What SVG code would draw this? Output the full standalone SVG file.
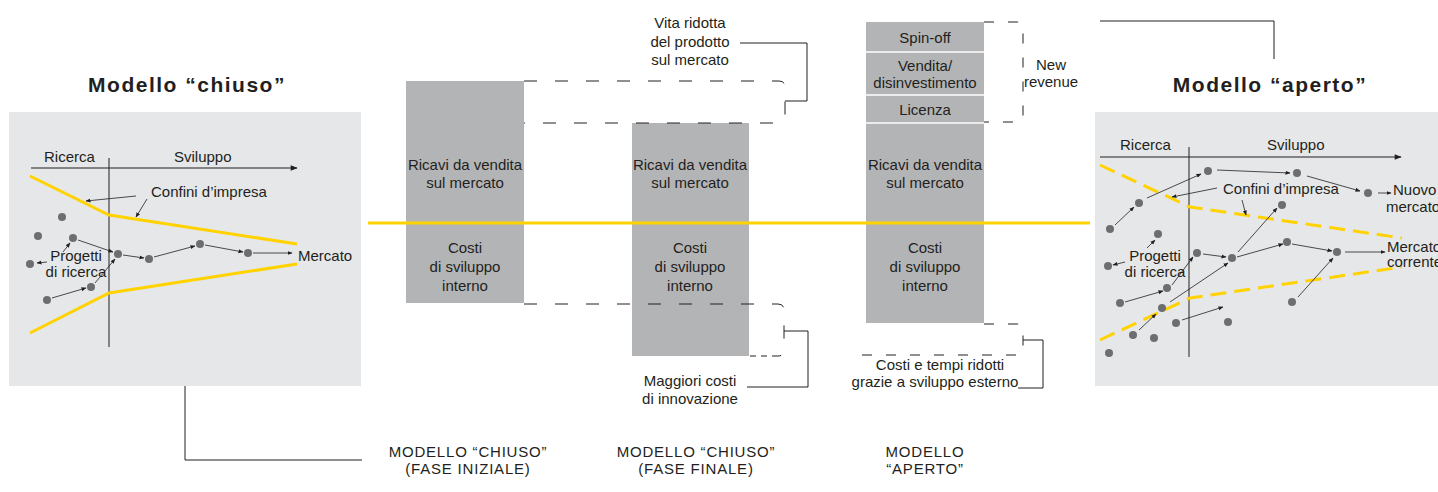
<svg xmlns="http://www.w3.org/2000/svg" width="1438" height="492" viewBox="0 0 1438 492">
<defs>
<marker id="ah" viewBox="0 0 10 10" refX="9" refY="5" markerWidth="5" markerHeight="5" orient="auto" markerUnits="userSpaceOnUse"><path d="M0,1 L10,5 L0,9 z" fill="#231f20"/></marker>
<marker id="ah2" viewBox="0 0 10 10" refX="9" refY="5" markerWidth="8" markerHeight="7" orient="auto" markerUnits="userSpaceOnUse"><path d="M0,1 L10,5 L0,9 z" fill="#231f20"/></marker>
<style>
.t{font-family:"Liberation Sans",Arial,sans-serif;font-size:15px;fill:#231f20}
.c{text-anchor:middle}
.ttl{font-weight:bold;font-size:21px;letter-spacing:1.5px}
.cap{letter-spacing:0.8px}
.panel{fill:#e6e7e8}
.bar{fill:#b3b4b6}
.dot{fill:#6d6e71}
.ar{stroke:#231f20;stroke-width:0.8;fill:none;marker-end:url(#ah)}
.ax{stroke:#231f20;stroke-width:1;fill:none}
.yl{stroke:#ffd200;stroke-width:3;fill:none}
.yd{stroke:#ffd200;stroke-width:3;fill:none;stroke-dasharray:16 8}
.br{stroke:#231f20;stroke-width:1;fill:none;stroke-dasharray:13 18}
.bs{stroke:#231f20;stroke-width:1;fill:none;stroke-dasharray:10 14}
.ld{stroke:#231f20;stroke-width:1;fill:none}
.sep{stroke:#fff;stroke-width:1.5}
</style>
</defs>

<g id="title-closed">
<text class="t ttl c" x="187" y="92">Modello “chiuso”</text>
</g>

<g id="panel-closed">
<rect class="panel" x="9" y="112" width="352" height="274"/>
<text class="t" x="44" y="162">Ricerca</text>
<text class="t" x="174" y="162">Sviluppo</text>
<line class="ax" x1="31" y1="168" x2="297" y2="168" marker-end="url(#ah2)"/>
<line class="ax" x1="109" y1="158" x2="109" y2="347"/>
<polyline class="yl" points="30,176 109,215 297,244"/>
<polyline class="yl" points="30,333 109,293 297,264"/>
<text class="t" x="151" y="197">Confini d’impresa</text>
<g>
<path class="ar" d="M78,240 L113,252"/>
<path class="ar" d="M123,255 L144,258"/>
<path class="ar" d="M154,257 L195,246"/>
<path class="ar" d="M205,245 L243,252"/>
<path class="ar" d="M253,253 L292,253"/>
<path class="ar" d="M52,298 L86,288"/>
<path class="ar" d="M95,283 L115,259"/>
<path class="ar" d="M63,252 L70,243"/>
<path class="ar" d="M47,262 L37,263"/>
<path class="ar" d="M136,196 L86,201"/>
<path class="ar" d="M147,199 L136,217"/>
</g>
<circle class="dot" cx="62" cy="217" r="4"/>
<circle class="dot" cx="38" cy="236" r="4"/>
<circle class="dot" cx="73" cy="238" r="4"/>
<circle class="dot" cx="30" cy="264" r="4"/>
<circle class="dot" cx="118" cy="254" r="4"/>
<circle class="dot" cx="149" cy="259" r="4"/>
<circle class="dot" cx="200" cy="244" r="4"/>
<circle class="dot" cx="248" cy="253" r="4"/>
<circle class="dot" cx="91" cy="287" r="4"/>
<circle class="dot" cx="47" cy="300" r="4"/>
<text class="t c" x="76" y="261">Progetti</text>
<text class="t c" x="76" y="277">di ricerca</text>
<text class="t" x="298" y="261">Mercato</text>
</g>

<g id="bar-closed-initial">
<rect class="bar" x="406" y="81" width="118" height="222"/>
<text class="t c" x="465" y="170">Ricavi da vendita</text>
<text class="t c" x="465" y="188">sul mercato</text>
<text class="t c" x="465" y="253">Costi</text>
<text class="t c" x="465" y="272">di sviluppo</text>
<text class="t c" x="465" y="291">interno</text>
</g>

<g id="bar-closed-final">
<rect class="bar" x="632" y="123" width="117" height="233"/>
<text class="t c" x="690" y="170">Ricavi da vendita</text>
<text class="t c" x="690" y="188">sul mercato</text>
<text class="t c" x="690" y="253">Costi</text>
<text class="t c" x="690" y="272">di sviluppo</text>
<text class="t c" x="690" y="291">interno</text>
</g>

<g id="bar-open">
<rect class="bar" x="866" y="22" width="118" height="301"/>
<line class="sep" x1="866" y1="52" x2="984" y2="52"/>
<line class="sep" x1="866" y1="95" x2="984" y2="95"/>
<line class="sep" x1="866" y1="123" x2="984" y2="123"/>
<text class="t c" x="925" y="43">Spin-off</text>
<text class="t c" x="925" y="71">Vendita/</text>
<text class="t c" x="925" y="88">disinvestimento</text>
<text class="t c" x="925" y="115">Licenza</text>
<text class="t c" x="925" y="170">Ricavi da vendita</text>
<text class="t c" x="925" y="188">sul mercato</text>
<text class="t c" x="925" y="253">Costi</text>
<text class="t c" x="925" y="272">di sviluppo</text>
<text class="t c" x="925" y="291">interno</text>
</g>

<g id="baseline">
<line x1="368" y1="223" x2="1090" y2="223" stroke="#ffd200" stroke-width="3"/>
</g>

<g id="note-vita">
<text class="t c" x="690" y="28">Vita ridotta</text>
<text class="t c" x="690" y="47">del prodotto</text>
<text class="t c" x="690" y="65">sul mercato</text>
</g>
<g id="note-costi">
<text class="t c" x="690" y="386">Maggiori costi</text>
<text class="t c" x="690" y="404">di innovazione</text>
</g>
<g id="note-revenue">
<text class="t c" x="1051" y="70">New</text>
<text class="t c" x="1051" y="87">revenue</text>
</g>
<g id="note-esterno">
<text class="t c" x="940" y="370">Costi e tempi ridotti</text>
<text class="t c" x="935" y="387">grazie a sviluppo esterno</text>
</g>

<g id="label-closed-initial">
<text class="t c cap" x="468" y="457">MODELLO “CHIUSO”</text>
<text class="t c cap" x="468" y="474">(FASE INIZIALE)</text>
</g>
<g id="label-closed-final">
<text class="t c cap" x="696" y="457">MODELLO “CHIUSO”</text>
<text class="t c cap" x="696" y="474">(FASE FINALE)</text>
</g>
<g id="label-open">
<text class="t c cap" x="925" y="457">MODELLO</text>
<text class="t c cap" x="925" y="474">“APERTO”</text>
</g>

<g id="title-open">
<text class="t ttl c" x="1270" y="92">Modello “aperto”</text>
</g>

<g id="panel-open">
<rect class="panel" x="1095" y="112" width="343" height="274"/>
<text class="t" x="1120" y="150">Ricerca</text>
<text class="t" x="1267" y="150">Sviluppo</text>
<line class="ax" x1="1100" y1="157" x2="1401" y2="157" marker-end="url(#ah2)"/>
<line class="ax" x1="1189" y1="147" x2="1189" y2="357"/>
<polyline class="yd" points="1100,165 1190,207 1402,238"/>
<polyline class="yd" points="1100,340 1190,298 1402,267"/>
<g>
<path class="ar" d="M1115,225 L1134,207"/>
<path class="ar" d="M1147,198 L1201,174"/>
<path class="ar" d="M1217,170 L1290,173"/>
<path class="ar" d="M1307,176 L1360,191"/>
<path class="ar" d="M1378,193 L1391,193"/>
<path class="ar" d="M1217,188 L1172,197"/>
<path class="ar" d="M1242,200 L1246,215"/>
<path class="ar" d="M1147,248 L1155,240"/>
<path class="ar" d="M1125,262 L1113,265"/>
<path class="ar" d="M1125,302 L1163,291"/>
<path class="ar" d="M1172,285 L1193,257"/>
<path class="ar" d="M1203,254 L1226,257"/>
<path class="ar" d="M1237,257 L1283,244"/>
<path class="ar" d="M1238,252 L1277,208"/>
<path class="ar" d="M1292,244 L1332,251"/>
<path class="ar" d="M1345,252 L1385,252"/>
<path class="ar" d="M1298,297 L1333,258"/>
<path class="ar" d="M1170,302 L1228,263"/>
<path class="ar" d="M1139,330 L1156,314"/>
<path class="ar" d="M1182,320 L1223,307"/>
</g>
<circle class="dot" cx="1208" cy="171" r="4"/>
<circle class="dot" cx="1297" cy="173" r="4"/>
<circle class="dot" cx="1368" cy="193" r="4"/>
<circle class="dot" cx="1139" cy="203" r="4"/>
<circle class="dot" cx="1110" cy="229" r="4"/>
<circle class="dot" cx="1282" cy="205" r="4"/>
<circle class="dot" cx="1158" cy="234" r="4"/>
<circle class="dot" cx="1108" cy="266" r="4"/>
<circle class="dot" cx="1197" cy="253" r="4"/>
<circle class="dot" cx="1232" cy="258" r="4"/>
<circle class="dot" cx="1287" cy="242" r="4"/>
<circle class="dot" cx="1337" cy="252" r="4"/>
<circle class="dot" cx="1167" cy="288" r="4"/>
<circle class="dot" cx="1120" cy="303" r="4"/>
<circle class="dot" cx="1162" cy="308" r="4"/>
<circle class="dot" cx="1292" cy="302" r="4"/>
<circle class="dot" cx="1176" cy="323" r="4"/>
<circle class="dot" cx="1228" cy="322" r="4"/>
<circle class="dot" cx="1133" cy="335" r="4"/>
<circle class="dot" cx="1154" cy="338" r="4"/>
<circle class="dot" cx="1109" cy="353" r="4"/>
<text class="t" x="1223" y="194">Confini d’impresa</text>
<text class="t" x="1393" y="195">Nuovo</text>
<text class="t" x="1386" y="212">mercato</text>
<text class="t" x="1387" y="252">Mercato</text>
<text class="t" x="1387" y="267">corrente</text>
<text class="t c" x="1155" y="261">Progetti</text>
<text class="t c" x="1155" y="277">di ricerca</text>
</g>

<g id="connectors">
<path class="br" d="M524,81 H779 Q785,81 785,87 V117 Q785,123 779,123 H524"/>
<path class="br" d="M524,304 H778 Q784,304 784,310 V350 Q784,356 778,356"/>
<path class="ld" d="M778,356 H749" stroke-dasharray="6 5"/>
<path class="bs" d="M984,22 H1017 Q1023,22 1023,28 V116 Q1023,122 1017,122 H984"/>
<path class="bs" d="M984,324 H1017 Q1023,324 1023,330 V349 Q1023,355 1017,355 H850"/>
<path class="ld" d="M785,101 H807 V43 H740"/>
<path class="ld" d="M784,331 H808 V387 H747"/>
<path class="ld" d="M1023,340 H1043 V388 H1018"/>
<path class="ld" d="M1100,21 H1274 V59" stroke="#555"/>
<path class="ld" d="M185,386 V460 H362" stroke="#555"/>
</g>
</svg>
